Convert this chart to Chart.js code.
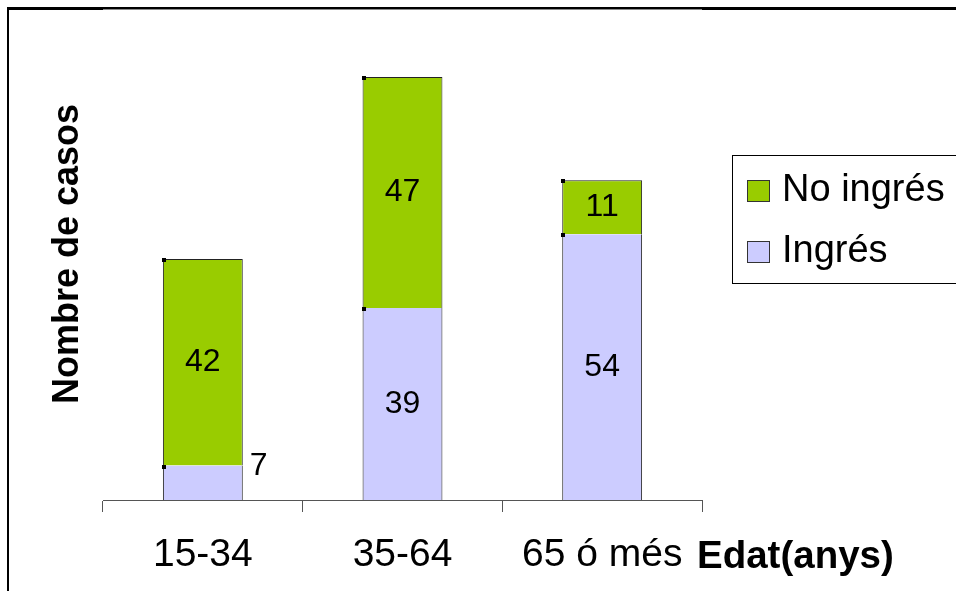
<!DOCTYPE html>
<html>
<head>
<meta charset="utf-8">
<style>
  html, body { margin: 0; padding: 0; background: #ffffff; }
  #wrap { width: 956px; height: 591px; }
</style>
<script src="https://cdn.jsdelivr.net/npm/chart.js@4.4.1/dist/chart.umd.min.js"></script>
</head>
<body>
<div id="wrap"><canvas id="chart" width="956" height="591"></canvas></div>
<script>
// Age groups and case counts (stacked: admitted at the bottom, not admitted on top)
const categories = ['15-34', '35-64', '65 ó més'];
const ingres = [7, 39, 54];
const noIngres = [42, 47, 11];
const seriesNames = ['Ingrés', 'No ingrés'];
const seriesColors = ['#CCCCFF', '#99CC00'];
const yMax = 100;
const xTitle = 'Edat(anys)';
const yTitle = 'Nombre de casos';

const FONT = "'Liberation Sans', Arial, Helvetica, sans-serif";

const decorations = {
  id: 'decorations',
  afterDatasetsDraw(chart) {
    const ctx = chart.ctx;
    const area = chart.chartArea;
    const xScale = chart.scales.x;
    ctx.save();

    // segment value labels + small corner handles
    chart.data.datasets.forEach((ds, di) => {
      const meta = chart.getDatasetMeta(di);
      meta.data.forEach((bar, i) => {
        const v = ds.data[i];
        const left = bar.x - bar.width / 2;
        const right = bar.x + bar.width / 2;
        ctx.fillStyle = '#000000';
        ctx.fillRect(Math.round(left) - 1, Math.round(bar.y) - 1, 4, 4);
        ctx.font = '32px ' + FONT;
        ctx.textBaseline = 'middle';
        const h = bar.base - bar.y;
        if (h < 40) {
          ctx.textAlign = 'left';
          ctx.fillText(String(v), right + 7, bar.y + 1);
        } else {
          ctx.textAlign = 'center';
          ctx.fillText(String(v), bar.x, (bar.y + bar.base) / 2);
        }
      });
    });

    // y-axis title (rotated)
    ctx.save();
    ctx.translate(68, (area.top + area.bottom) / 2);
    ctx.rotate(-Math.PI / 2);
    ctx.font = 'bold 36px ' + FONT;
    ctx.textAlign = 'center';
    ctx.textBaseline = 'middle';
    ctx.fillStyle = '#000000';
    ctx.fillText(yTitle, 0, 0);
    ctx.restore();

    // x-axis title, to the right of the last category label
    ctx.font = 'bold 38.5px ' + FONT;
    ctx.textAlign = 'left';
    ctx.textBaseline = 'middle';
    ctx.fillStyle = '#000000';
    ctx.fillText(xTitle, xScale.right - 5, xScale.top + 57);

    // legend box (top series listed first)
    const lx = 732.5, ly = 155.5, lw = 240, lh = 128;
    ctx.fillStyle = '#ffffff';
    ctx.fillRect(lx, ly, lw, lh);
    ctx.strokeStyle = '#000000';
    ctx.lineWidth = 1;
    ctx.strokeRect(lx, ly, lw, lh);
    const order = [1, 0];
    order.forEach((si, k) => {
      const cy = 191 + k * 61;
      ctx.fillStyle = seriesColors[si];
      ctx.fillRect(747, cy - 11, 23, 22);
      ctx.strokeStyle = '#333333';
      ctx.strokeRect(747.5, cy - 10.5, 22, 21);
      ctx.fillStyle = '#000000';
      ctx.font = '38px ' + FONT;
      ctx.textAlign = 'left';
      ctx.textBaseline = 'middle';
      ctx.fillText(seriesNames[si], 782, cy);
    });
    ctx.restore();
  },
  afterDraw(chart) {
    const ctx = chart.ctx;
    const area = chart.chartArea;
    ctx.save();
    // outer frame: left and top edges
    ctx.fillStyle = '#000000';
    ctx.fillRect(7, 8, 2, 583);
    ctx.fillRect(7, 7, 949, 3);
    ctx.fillStyle = '#8a8a8a';
    ctx.fillRect(area.left, 9, area.right - area.left, 1);
    ctx.restore();
  }
};

new Chart(document.getElementById('chart'), {
  type: 'bar',
  data: {
    labels: categories,
    datasets: [
      {
        label: seriesNames[0],
        data: ingres,
        backgroundColor: seriesColors[0],
        borderColor: '#222222',
        borderWidth: { left: 1, right: 1, top: 0, bottom: 0 },
        barPercentage: 1,
        categoryPercentage: 0.4
      },
      {
        label: seriesNames[1],
        data: noIngres,
        backgroundColor: seriesColors[1],
        borderColor: '#222222',
        borderWidth: 1,
        barPercentage: 1,
        categoryPercentage: 0.4
      }
    ]
  },
  options: {
    responsive: false,
    animation: false,
    devicePixelRatio: 1,
    layout: { padding: { left: 103, right: 254, top: 8, bottom: 0 } },
    plugins: {
      legend: { display: false },
      tooltip: { enabled: false }
    },
    scales: {
      x: {
        stacked: true,
        afterFit(scale) { scale.height = 91; },
        grid: {
          offset: true,
          drawOnChartArea: false,
          drawTicks: true,
          tickLength: 12,
          color: '#555555'
        },
        border: { display: true, color: '#555555', width: 1 },
        ticks: {
          color: '#000000',
          font: { family: FONT, size: 39 },
          padding: 20,
          maxRotation: 0
        }
      },
      y: {
        stacked: true,
        display: false,
        min: 0,
        max: yMax
      }
    }
  },
  plugins: [decorations]
});
</script>
</body>
</html>
